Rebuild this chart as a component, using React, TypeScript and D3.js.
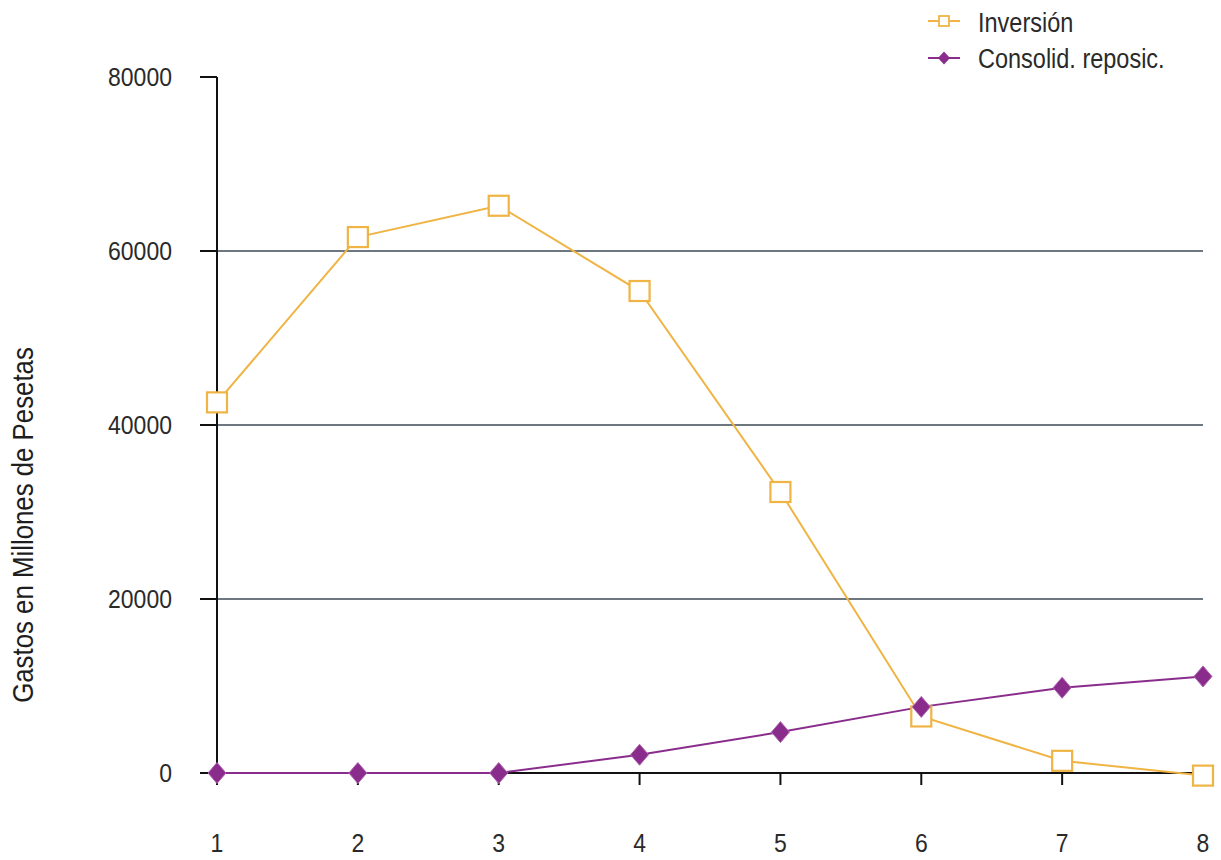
import React from "react";
import * as d3 from "d3";

const periods = [1, 2, 3, 4, 5, 6, 7, 8];
const inversion = [42600, 61600, 65200, 55400, 32300, 6500, 1400, -300];
const consolid = [0, 0, 0, 2100, 4700, 7600, 9800, 11100];
const yTicks = [0, 20000, 40000, 60000, 80000];
const gridTicks = [20000, 40000, 60000];
const seriesNames = ["Inversión", "Consolid. reposic."];
const yLabel = "Gastos en Millones de Pesetas";

const W = 1221;
const H = 860;
const FONT = "'Liberation Sans', Arial, sans-serif";
const ORANGE = "#EFB444";
const PURPLE = "#8A2C8C";

function NText({
  x,
  y,
  sx,
  fs,
  anchor,
  children,
  fill = "#2a2a2a",
}: {
  x: number;
  y: number;
  sx: number;
  fs: number;
  anchor: "start" | "middle" | "end";
  children: React.ReactNode;
  fill?: string;
}) {
  return (
    <text
      transform={`translate(${x},${y}) scale(${sx},1)`}
      textAnchor={anchor}
      dominantBaseline="central"
      fontFamily={FONT}
      fontSize={fs}
      fill={fill}
    >
      {children}
    </text>
  );
}

export default function App() {
  const x = d3.scalePoint<number>().domain(periods).range([217, 1203]);
  const y = d3.scaleLinear().domain([0, 80000]).range([773, 77]);
  const line = d3
    .line<number>()
    .x((_, i) => x(periods[i]) as number)
    .y((d) => y(d));

  const sq = 20;
  const diamond = (cx: number, cy: number, rx: number, ry: number) =>
    `M${cx},${cy - ry}L${cx + rx},${cy}L${cx},${cy + ry}L${cx - rx},${cy}Z`;

  return (
    <svg width={W} height={H} style={{ position: "absolute", left: 0, top: 0, background: "#fff" }}>
      <rect width={W} height={H} fill="#fff" />
      {/* gridlines */}
      {gridTicks.map((t) => (
        <line key={t} x1={217} x2={1203} y1={y(t)} y2={y(t)} stroke="#3e4a54" strokeWidth={1.6} />
      ))}
      {/* y axis */}
      <line x1={217} x2={217} y1={y(80000)} y2={y(0)} stroke="#111" strokeWidth={2} />
      {yTicks.map((t) => (
        <g key={t}>
          <line x1={200} x2={217} y1={y(t)} y2={y(t)} stroke="#111" strokeWidth={2} />
          <NText x={172} y={y(t)} sx={0.92} fs={25} anchor="end">
            {t}
          </NText>
        </g>
      ))}
      {/* x axis */}
      <line x1={200} x2={1203} y1={y(0)} y2={y(0)} stroke="#111" strokeWidth={2} />
      {periods.map((p) => (
        <g key={p}>
          <line x1={x(p)} x2={x(p)} y1={y(0)} y2={y(0) + 12} stroke="#111" strokeWidth={2} />
          <NText x={x(p) as number} y={843} sx={0.92} fs={25} anchor="middle">
            {p}
          </NText>
        </g>
      ))}
      {/* y label */}
      <g transform="translate(23,525) rotate(-90)">
        <NText x={0} y={0} sx={0.89} fs={29} anchor="middle" fill="#1e1e1e">
          {yLabel}
        </NText>
      </g>
      {/* series lines */}
      <path d={line(inversion) || ""} fill="none" stroke={ORANGE} strokeWidth={2} />
      <path d={line(consolid) || ""} fill="none" stroke={PURPLE} strokeWidth={2} />
      {inversion.map((v, i) => (
        <rect
          key={"s" + i}
          x={(x(periods[i]) as number) - sq / 2}
          y={y(v) - sq / 2}
          width={sq}
          height={sq}
          fill="#fff"
          stroke={ORANGE}
          strokeWidth={2.2}
        />
      ))}
      {consolid.map((v, i) => (
        <path
          key={"d" + i}
          d={diamond(x(periods[i]) as number, y(v), 9, 10.5)}
          fill={PURPLE}
          stroke="#b066b0"
          strokeWidth={1}
        />
      ))}
      {/* legend */}
      <g>
        <line x1={928} x2={960} y1={21} y2={21} stroke={ORANGE} strokeWidth={2} />
        <rect x={939} y={16} width={10} height={10} fill="#fff" stroke={ORANGE} strokeWidth={1.8} />
        <NText x={978} y={22} sx={0.87} fs={27} anchor="start">
          {seriesNames[0]}
        </NText>
        <line x1={928} x2={960} y1={58} y2={58} stroke={PURPLE} strokeWidth={2} />
        <path d={diamond(944, 58, 6, 6.5)} fill={PURPLE} />
        <NText x={978} y={58} sx={0.87} fs={27} anchor="start">
          {seriesNames[1]}
        </NText>
      </g>
    </svg>
  );
}
